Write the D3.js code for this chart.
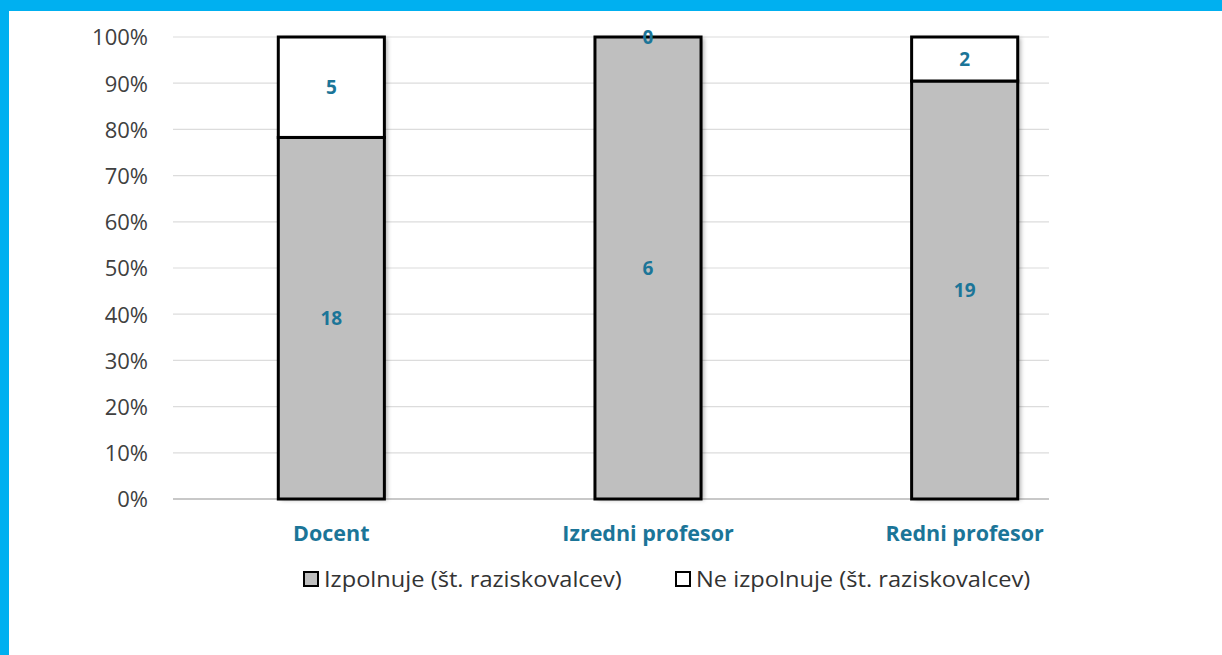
<!DOCTYPE html>
<html>
<head>
<meta charset="utf-8">
<script src="https://cdn.jsdelivr.net/npm/d3@7"></script>
<style>
  body { margin: 0; background: #fff; }
  svg { display: block; }
</style>
</head>
<body>
<div id="chart"></div>
<script>
// data
var categories = ["Docent", "Izredni profesor", "Redni profesor"];
var izpolnuje = [18, 6, 19];
var neIzpolnuje = [5, 0, 2];
var seriesNames = ["Izpolnuje (št. raziskovalcev)", "Ne izpolnuje (št. raziskovalcev)"];
var yTicks = [0, 0.1, 0.2, 0.3, 0.4, 0.5, 0.6, 0.7, 0.8, 0.9, 1];

var width = 1222, height = 655;
var blue = "#00b0f0", labelBlue = "#1b7598", textGray = "#404040";

var svg = d3.select("#chart")
    .append("svg")
    .attr("width", width)
    .attr("height", height);

// frame
svg.append("rect").attr("x", 0).attr("y", 0).attr("width", width).attr("height", 11).attr("fill", blue);
svg.append("rect").attr("x", 0).attr("y", 0).attr("width", 9).attr("height", height).attr("fill", blue);

var defs = svg.append("defs");
var shadow = defs.append("filter").attr("id", "shadow")
    .attr("x", "-20%").attr("y", "-5%").attr("width", "140%").attr("height", "110%");
shadow.append("feDropShadow")
    .attr("dx", 3).attr("dy", 1).attr("stdDeviation", 2)
    .attr("flood-color", "#000").attr("flood-opacity", 0.3);

var plotLeft = 173, plotRight = 1049, plotTop = 37, plotBottom = 499;

var x = d3.scalePoint()
    .domain(categories)
    .range([plotLeft, 1123])
    .padding(0.5);
var barW = x.step() * 0.335;

var y = d3.scaleLinear()
    .domain([0, 1])
    .range([plotBottom, plotTop]);

// gridlines
svg.append("g").selectAll("line")
    .data(yTicks)
    .enter().append("line")
    .attr("x1", plotLeft).attr("x2", plotRight)
    .attr("y1", function (d) { return y(d); })
    .attr("y2", function (d) { return y(d); })
    .attr("stroke", function (d) { return d === 0 ? "#c8c8c8" : "#dcdcdc"; })
    .attr("stroke-width", function (d) { return d === 0 ? 2 : 1.2; });

// y axis labels
var yAxis = d3.axisLeft(y)
    .tickValues(yTicks)
    .tickFormat(d3.format(".0%"))
    .tickSize(0)
    .tickPadding(0);
var gy = svg.append("g")
    .attr("transform", "translate(148,0)")
    .call(yAxis);
gy.select(".domain").remove();
gy.selectAll("text")
    .attr("fill", textGray)
    .style("font-family", "'Open Sans', sans-serif")
    .style("font-size", "22px")
    .attr("dy", "0.36em");

// stacked data
var rows = categories.map(function (c, i) {
    var total = izpolnuje[i] + neIzpolnuje[i];
    return {
        cat: c,
        segs: [
            { v: izpolnuje[i], y0: 0, y1: izpolnuje[i] / total, fill: "#bfbfbf" },
            { v: neIzpolnuje[i], y0: izpolnuje[i] / total, y1: 1, fill: "#ffffff" }
        ]
    };
});

var bar = svg.append("g").selectAll(".bar")
    .data(rows)
    .enter().append("g")
    .attr("class", "bar");

// shadow + outline of full bar
bar.append("rect")
    .attr("x", function (d) { return x(d.cat) - barW / 2; })
    .attr("y", y(1))
    .attr("width", barW)
    .attr("height", y(0) - y(1))
    .attr("fill", "#fff")
    .attr("filter", "url(#shadow)");

bar.selectAll(".seg")
    .data(function (d) { return d.segs.map(function (s) { return Object.assign({ cat: d.cat }, s); }); })
    .enter().append("rect")
    .attr("class", "seg")
    .attr("x", function (d) { return x(d.cat) - barW / 2; })
    .attr("y", function (d) { return y(d.y1); })
    .attr("width", barW)
    .attr("height", function (d) { return y(d.y0) - y(d.y1); })
    .attr("fill", function (d) { return d.fill; })
    .attr("stroke", "#000")
    .attr("stroke-width", 3);

// value labels
bar.selectAll(".val")
    .data(function (d) { return d.segs.map(function (s) { return Object.assign({ cat: d.cat }, s); }); })
    .enter().append("text")
    .attr("class", "val")
    .attr("x", function (d) { return x(d.cat); })
    .attr("y", function (d) { return (y(d.y0) + y(d.y1)) / 2; })
    .attr("dy", "0.36em")
    .attr("text-anchor", "middle")
    .attr("fill", labelBlue)
    .style("font-family", "'Open Sans', sans-serif")
    .style("font-weight", "bold")
    .style("font-size", "19px")
    .text(function (d) { return d.v; });

// category labels
svg.append("g").selectAll("text")
    .data(categories)
    .enter().append("text")
    .attr("x", function (d) { return x(d); })
    .attr("y", 541)
    .attr("text-anchor", "middle")
    .attr("fill", labelBlue)
    .style("font-family", "'Open Sans', sans-serif")
    .style("font-weight", "bold")
    .style("font-size", "21.5px")
    .text(function (d) { return d; });

// legend
var legendX = [303, 675];
var legend = svg.append("g").selectAll(".legend")
    .data(seriesNames)
    .enter().append("g")
    .attr("class", "legend")
    .attr("transform", function (d, i) { return "translate(" + legendX[i] + ",571)"; });

legend.append("rect")
    .attr("x", 1).attr("y", 1)
    .attr("width", 14).attr("height", 14)
    .attr("fill", function (d, i) { return i === 0 ? "#bfbfbf" : "#fff"; })
    .attr("stroke", "#000")
    .attr("stroke-width", 2);

legend.append("text")
    .attr("transform", "translate(21,16) scale(1.075,1)")
    .attr("fill", "#333")
    .style("font-family", "'Open Sans', sans-serif")
    .style("font-size", "22px")
    .text(function (d) { return d; });
</script>
</body>
</html>
